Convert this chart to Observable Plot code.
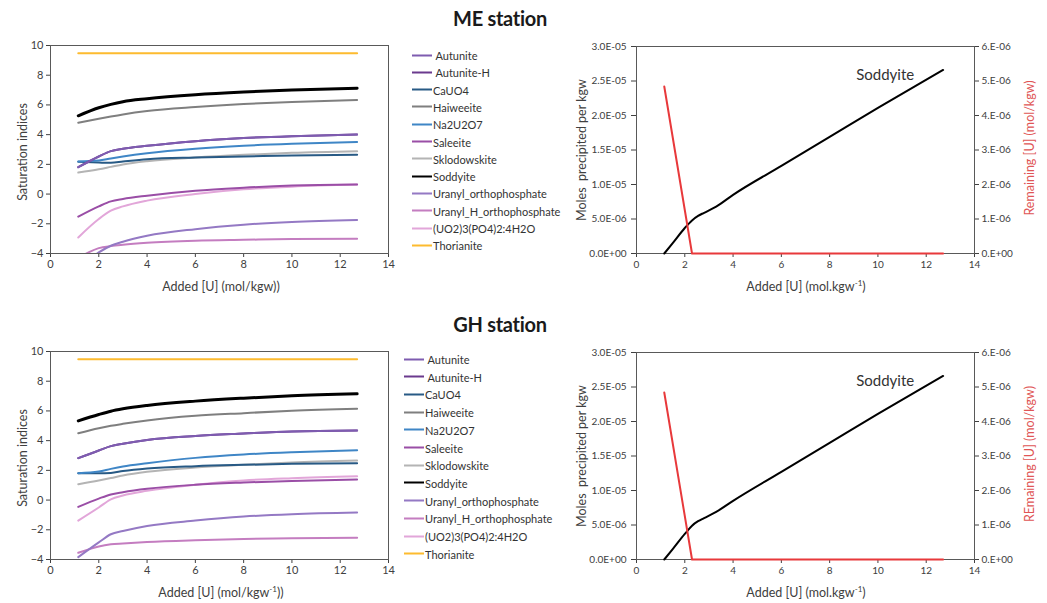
<!DOCTYPE html>
<html>
<head>
<meta charset="utf-8">
<script src="https://cdn.jsdelivr.net/npm/d3@7"></script>
<script src="https://cdn.jsdelivr.net/npm/@observablehq/plot@0.6"></script>
<style>
  body { margin: 0; background: #fff; }
  #root { position: relative; width: 1047px; height: 603px; overflow: hidden; font-family: Lato, "Open Sans", sans-serif; color: #404040; background: #fff; }
  .abs { position: absolute; }
  .title { font-weight: 700; font-size: 20px; color: #1a1a1a; transform: translate(-50%, -50%); white-space: nowrap; letter-spacing: -0.3px; }
  .xl { font-size: 12.5px; transform: translate(-50%, -50%); white-space: nowrap; color: #404040; }
  .xl sup { font-size: 8px; vertical-align: 5px; line-height: 0; }
  .yl { font-size: 12.5px; white-space: nowrap; transform: translate(-50%, -50%) rotate(-90deg); color: #404040; }
  .leg { font-size: 11px; color: #333; white-space: nowrap; }
  .leg .row { position: absolute; display: flex; align-items: center; transform: translateY(-50%); }
  .leg .sw { width: 20px; height: 0; border-top: 2px solid; margin-right: 1px; }
</style>
</head>
<body>
<div id="root"></div>
<script>
// ---------- Data ----------
const minerals = ["Autunite", "Autunite-H", "CaUO4", "Haiweeite", "Na2U2O7", "Saleeite", "Sklodowskite", "Soddyite", "Uranyl_orthophosphate", "Uranyl_H_orthophosphate", "(UO2)3(PO4)2:4H2O", "Thorianite"];
const mineralColors = ["#7e5cb0", "#6b3a8e", "#285a85", "#7f7f7f", "#3f86c6", "#9a4ea6", "#b4b4b4", "#000000", "#9479c4", "#c47dc0", "#e2a6d9", "#fdbb2f"];
const legendLabels = [" Autunite", " Autunite-H", "CaUO4", "Haiweeite", "Na2U2O7", "Saleeite", "Sklodowskite", "Soddyite", "Uranyl_orthophosphate", "Uranyl_H_orthophosphate", "(UO2)3(PO4)2:4H2O", "Thorianite"];

const addedU = [1.15, 2, 2.5, 3, 4, 6, 8, 10, 12.7];

// ME station saturation indices
const meAutunite    = [1.81, 2.53, 2.89, 3.05, 3.25, 3.56, 3.77, 3.90, 4.01];
const meAutuniteH   = [1.81, 2.53, 2.89, 3.05, 3.25, 3.56, 3.77, 3.90, 4.01];
const meCaUO4       = [2.17, 2.12, 2.10, 2.19, 2.35, 2.46, 2.53, 2.60, 2.64];
const meHaiweeite   = [4.80, 5.07, 5.22, 5.36, 5.59, 5.86, 6.06, 6.20, 6.33];
const meNa2U2O7     = [2.19, 2.26, 2.40, 2.53, 2.75, 3.05, 3.25, 3.38, 3.50];
const meSaleeite    = [-1.52, -0.83, -0.49, -0.33, -0.11, 0.23, 0.43, 0.57, 0.64];
const meSklodowskite= [1.45, 1.67, 1.83, 1.99, 2.21, 2.46, 2.64, 2.78, 2.89];
const meSoddyite    = [5.27, 5.81, 6.04, 6.22, 6.42, 6.69, 6.87, 7.00, 7.12];
const meUranylOrtho = [-5.00, -3.93, -3.48, -3.21, -2.81, -2.36, -2.06, -1.88, -1.75];
const meUranylH     = [-4.30, -3.64, -3.50, -3.41, -3.28, -3.14, -3.08, -3.03, -3.01];
const meUO2PO4      = [-2.92, -1.68, -1.12, -0.83, -0.44, 0.01, 0.32, 0.50, 0.64];
const meThorianite  = [9.48, 9.48, 9.48, 9.48, 9.48, 9.48, 9.48, 9.48, 9.48];

// GH station saturation indices
const ghAutunite    = [2.82, 3.34, 3.63, 3.79, 4.05, 4.32, 4.48, 4.62, 4.69];
const ghAutuniteH   = [2.82, 3.34, 3.63, 3.79, 4.05, 4.32, 4.48, 4.62, 4.69];
const ghCaUO4       = [1.81, 1.81, 1.83, 1.95, 2.12, 2.28, 2.37, 2.44, 2.48];
const ghHaiweeite   = [4.50, 4.84, 5.00, 5.13, 5.36, 5.67, 5.85, 6.01, 6.14];
const ghNa2U2O7     = [1.81, 1.92, 2.10, 2.26, 2.48, 2.84, 3.07, 3.22, 3.36];
const ghSaleeite    = [-0.46, 0.10, 0.38, 0.53, 0.76, 1.03, 1.18, 1.29, 1.38];
const ghSklodowskite= [1.07, 1.32, 1.48, 1.65, 1.90, 2.19, 2.37, 2.53, 2.66];
const ghSoddyite    = [5.33, 5.76, 5.98, 6.14, 6.37, 6.66, 6.86, 7.02, 7.15];
const ghUranylOrtho = [-3.84, -2.85, -2.30, -2.08, -1.74, -1.38, -1.11, -0.95, -0.84];
const ghUranylH     = [-3.55, -3.12, -2.98, -2.92, -2.82, -2.70, -2.62, -2.57, -2.53];
const ghUO2PO4      = [-1.38, -0.50, 0.05, 0.31, 0.62, 1.03, 1.32, 1.47, 1.60];
const ghThorianite  = [9.48, 9.48, 9.48, 9.48, 9.48, 9.48, 9.48, 9.48, 9.48];

// Soddyite precipitated (mol/kgw) and remaining U (mol/kgw)
const precipX   = [1.15, 1.5, 2.0, 2.3, 2.55, 2.8, 3.3, 4, 6, 8, 10, 12.7];
const mePrecip  = [0, 0.15e-5, 0.37e-5, 0.48e-5, 0.545e-5, 0.59e-5, 0.68e-5, 0.85e-5, 1.27e-5, 1.69e-5, 2.11e-5, 2.66e-5];
const ghPrecip  = [0, 0.15e-5, 0.37e-5, 0.49e-5, 0.555e-5, 0.60e-5, 0.69e-5, 0.85e-5, 1.27e-5, 1.69e-5, 2.11e-5, 2.66e-5];
const remainX   = [1.15, 2.3, 12.7];
const meRemain  = [4.84e-6, 0, 0];
const ghRemain  = [4.84e-6, 0, 0];

// Ticks
const xTicks      = [0, 2, 4, 6, 8, 10, 12, 14];
const siTicks     = [-4, -2, 0, 2, 4, 6, 8, 10];
const precipTicks = [0, 5e-6, 1e-5, 1.5e-5, 2e-5, 2.5e-5, 3e-5];
const remainTicks = [0, 1e-6, 2e-6, 3e-6, 4e-6, 5e-6, 6e-6];

// Annotation
const sodLabel = [{x: 10.3, y: 2.58e-5, text: "Soddyite"}];

const meSeries = [meAutunite, meAutuniteH, meCaUO4, meHaiweeite, meNa2U2O7, meSaleeite, meSklodowskite, meSoddyite, meUranylOrtho, meUranylH, meUO2PO4, meThorianite];
const ghSeries = [ghAutunite, ghAutuniteH, ghCaUO4, ghHaiweeite, ghNa2U2O7, ghSaleeite, ghSklodowskite, ghSoddyite, ghUranylOrtho, ghUranylH, ghUO2PO4, ghThorianite];

// ---------- Helpers ----------
const root = document.getElementById("root");
function place(node, left, top) {
  const d = document.createElement("div");
  d.className = "abs";
  d.style.left = left + "px";
  d.style.top = top + "px";
  d.appendChild(node);
  root.appendChild(d);
  return d;
}
function html(cls, left, top, inner, color) {
  const d = document.createElement("div");
  d.className = "abs " + cls;
  d.style.left = left + "px";
  d.style.top = top + "px";
  if (color) d.style.color = color;
  d.innerHTML = inner;
  root.appendChild(d);
}
function sci(digits, dot) {
  return d => {
    const [m, e] = d.toExponential(digits).split("e");
    const sign = e[0];
    const ex = e.slice(1).padStart(2, "0");
    return m.toUpperCase() + (dot ? "." : "") + "E" + sign + ex;
  };
}
const axisStyle = {fontFamily: "Lato, 'Open Sans', sans-serif", fontSize: "11px", color: "#404040", background: "transparent", overflow: "visible"};
const axisStyleR = {...axisStyle, fontSize: "10px"};

function siPlot(series) {
  const marks = [Plot.frame({stroke: "#595959", strokeWidth: 1})];
  const order = [11, 10, 9, 8, 6, 3, 2, 4, 5, 1, 0, 7];
  for (const i of order) {
    const rows = addedU.map((x, k) => ({x, y: series[i][k]}));
    marks.push(Plot.line(rows, {x: "x", y: "y", stroke: mineralColors[i], strokeWidth: i === 7 ? 3 : 2, curve: "monotone-x", clip: true}));
  }
  return Plot.plot({
    width: 400, height: 270,
    marginLeft: 50, marginRight: 12, marginTop: 15, marginBottom: 47,
    style: axisStyle,
    x: {domain: [0, 14], ticks: xTicks, label: null, tickSize: 4, tickPadding: 3},
    y: {domain: [-4, 10], ticks: siTicks, label: null, tickSize: 4, tickPadding: 3},
    marks
  });
}

function precipPlot(prec) {
  const rows = precipX.map((x, k) => ({x, y: prec[k]}));
  return Plot.plot({
    width: 467, height: 270,
    marginLeft: 56, marginRight: 73, marginTop: 16, marginBottom: 47,
    style: axisStyleR,
    x: {domain: [0, 14], ticks: xTicks, label: null, tickSize: 4, tickPadding: 3},
    y: {domain: [0, 3e-5], ticks: precipTicks, tickFormat: sci(1, false), label: null, tickSize: 5, tickPadding: 5},
    marks: [
      Plot.frame({stroke: "#595959", strokeWidth: 1}),
      Plot.line(rows, {x: "x", y: "y", stroke: "#000", strokeWidth: 2, curve: "monotone-x"}),
      Plot.text(sodLabel, {x: "x", y: "y", text: "text", fontSize: 15, fill: "#333"})
    ]
  });
}

function remainPlot(rem) {
  const rows = remainX.map((x, k) => ({x, y: rem[k]}));
  return Plot.plot({
    width: 467, height: 270,
    marginLeft: 56, marginRight: 73, marginTop: 16, marginBottom: 47,
    style: axisStyleR,
    x: {domain: [0, 14], axis: null},
    y: {domain: [0, 6e-6], ticks: remainTicks, tickFormat: sci(0, true), label: null, axis: "right", tickSize: 4, tickPadding: 3},
    marks: [
      Plot.line(rows, {x: "x", y: "y", stroke: "#e8393b", strokeWidth: 2})
    ]
  });
}

function legend(top, step, swLeft) {
  const box = document.createElement("div");
  box.className = "abs leg";
  box.style.left = "0px";
  box.style.top = "0px";
  minerals.forEach((m, i) => {
    const r = document.createElement("div");
    r.className = "row";
    r.style.left = swLeft + "px";
    r.style.top = (top + i * step) + "px";
    const sw = document.createElement("div");
    sw.className = "sw";
    sw.style.borderTopColor = mineralColors[i];
    const t = document.createElement("span");
    t.textContent = legendLabels[i];
    t.style.whiteSpace = "pre";
    r.appendChild(sw);
    r.appendChild(t);
    box.appendChild(r);
  });
  root.appendChild(box);
}

// ---------- Build ----------
const panels = [
  {dy: 0, title: "ME station", si: meSeries, prec: mePrecip, rem: meRemain,
   xl1: "Added [U] (mol/kgw))", remLabel: "Remaining [U] (mol/kgw)", legTop: 55, legStep: 17.3, legLeft: 412},
  {dy: 306, title: "GH station", si: ghSeries, prec: ghPrecip, rem: ghRemain,
   xl1: "Added [U] (mol/kgw<sup>-1</sup>))", remLabel: "REmaining [U] (mol/kgw)", legTop: 359, legStep: 17.7, legLeft: 404}
];

for (const p of panels) {
  html("title", 500, 18 + p.dy, p.title);
  place(siPlot(p.si), 0, 30 + p.dy);
  place(precipPlot(p.prec), 580, 30 + p.dy);
  place(remainPlot(p.rem), 580, 30 + p.dy);
  html("xl", 221, 286 + p.dy, p.xl1);
  html("xl", 806, 286 + p.dy, "Added [U] (mol.kgw<sup>-1</sup>)");
  html("yl", 22, 152 + p.dy, "Saturation indices");
  html("yl", 581, 150 + p.dy, "Moles&nbsp;&nbsp;precipited per kgw");
  html("yl", 1029, 148 + p.dy, p.remLabel, "#e05555");
  legend(p.legTop, p.legStep, p.legLeft);
}
</script>
</body>
</html>
